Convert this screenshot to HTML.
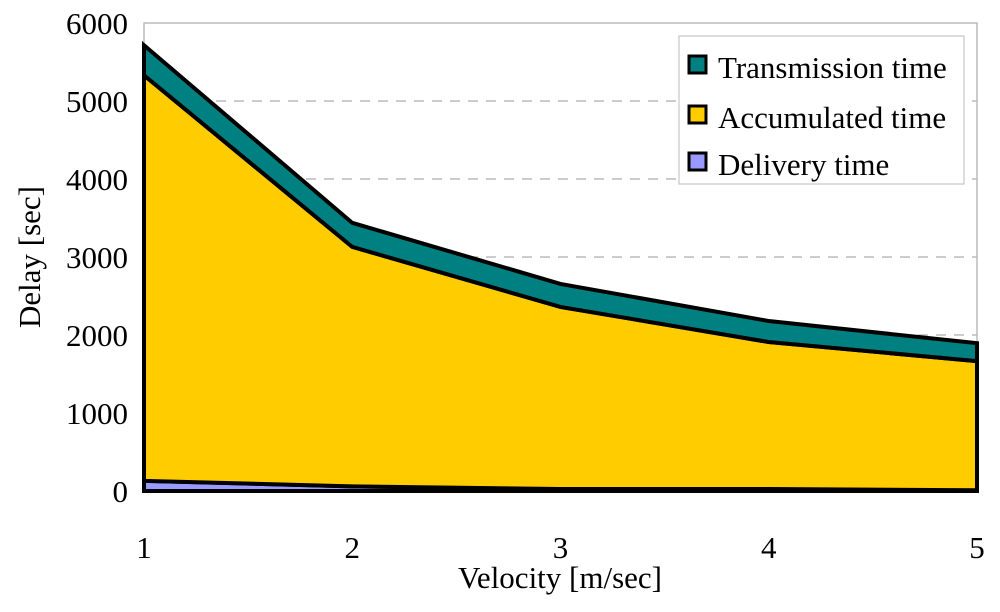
<!DOCTYPE html>
<html><head><meta charset="utf-8"><style>
body{margin:0;background:#fff;}
svg text{font-family:"Liberation Serif",serif;fill:#000;}
</style></head><body>
<svg width="1000" height="607">
<g id="grid"></g>
<rect x="144" y="23" width="833" height="468" fill="none" stroke="#bbb" stroke-width="1.5"/>
<g id="areas"></g>
<g id="axes"></g>
<text x="40" y="257" font-size="31" text-anchor="middle" transform="rotate(-90 40 257)">Delay [sec]</text>
<text x="560" y="588" font-size="31" text-anchor="middle">Velocity [m/sec]</text>
<g>
<rect x="679" y="36" width="285" height="148" fill="#fff" stroke="#bbb" stroke-width="1"/>
<g><rect x="689" y="56" width="17" height="17" fill="#008080" stroke="#000" stroke-width="3"/><text x="718" y="78" font-size="31">Transmission time</text></g>
<g><rect x="689" y="106" width="17" height="17" fill="#ffcc00" stroke="#000" stroke-width="3"/><text x="718" y="128" font-size="31">Accumulated time</text></g>
<g><rect x="689" y="153" width="17" height="17" fill="#9999ff" stroke="#000" stroke-width="3"/><text x="718" y="175" font-size="31">Delivery time</text></g>
</g>
</svg>
<script>
const categories=[1,2,3,4,5];
const delivery=[130,60,25,25,10];
const accumulated=[5200,3070,2335,1885,1655];
const transmission=[385,308,295,269,230];
const yTicks=[0,1000,2000,3000,4000,5000,6000];
const NS='http://www.w3.org/2000/svg';
const X=v=>144+(v-1)*(977-144)/4;
const Y=v=>491-v*(491-23)/6000;
function mk(t,a,p){const e=document.createElementNS(NS,t);for(const k in a)e.setAttribute(k,a[k]);p.appendChild(e);return e;}
const grid=document.getElementById('grid'),areas=document.getElementById('areas'),axes=document.getElementById('axes');
yTicks.forEach(v=>{
 if(v>0&&v<6000){const l=mk('line',{x1:144,x2:977,y1:Y(v),y2:Y(v),stroke:'#bbb','stroke-width':1.5,'stroke-dasharray':'10 8'},grid);
 
 }
 const t=mk('text',{x:128,y:Y(v)+11,'font-size':31,'text-anchor':'end'},axes);t.textContent=v;
 
 
});
categories.forEach(c=>{const t=mk('text',{x:X(c),y:558,'font-size':31,'text-anchor':'middle'},axes);t.textContent=c;
 
 });
const base=categories.map(()=>0);
const series=[[delivery,'#9999ff','delivery'],[accumulated,'#ffcc00','accumulated'],[transmission,'#008080','transmission']];
series.forEach(([vals,col,name])=>{
 const top=base.map((b,i)=>b+vals[i]);
 let pts=categories.map((c,i)=>X(c)+','+Y(top[i]));
 pts=pts.concat(categories.map((c,i)=>X(c)+','+Y(base[i])).reverse());
 const p=mk('polygon',{points:pts.join(' '),fill:col,stroke:'#000','stroke-width':4,'stroke-linejoin':'miter'},areas);
 
 
 top.forEach((v,i)=>base[i]=v);
});
const ax=mk('line',{x1:144,x2:977,y1:491,y2:491,stroke:'#000','stroke-width':2},axes);


</script>
</body></html>
